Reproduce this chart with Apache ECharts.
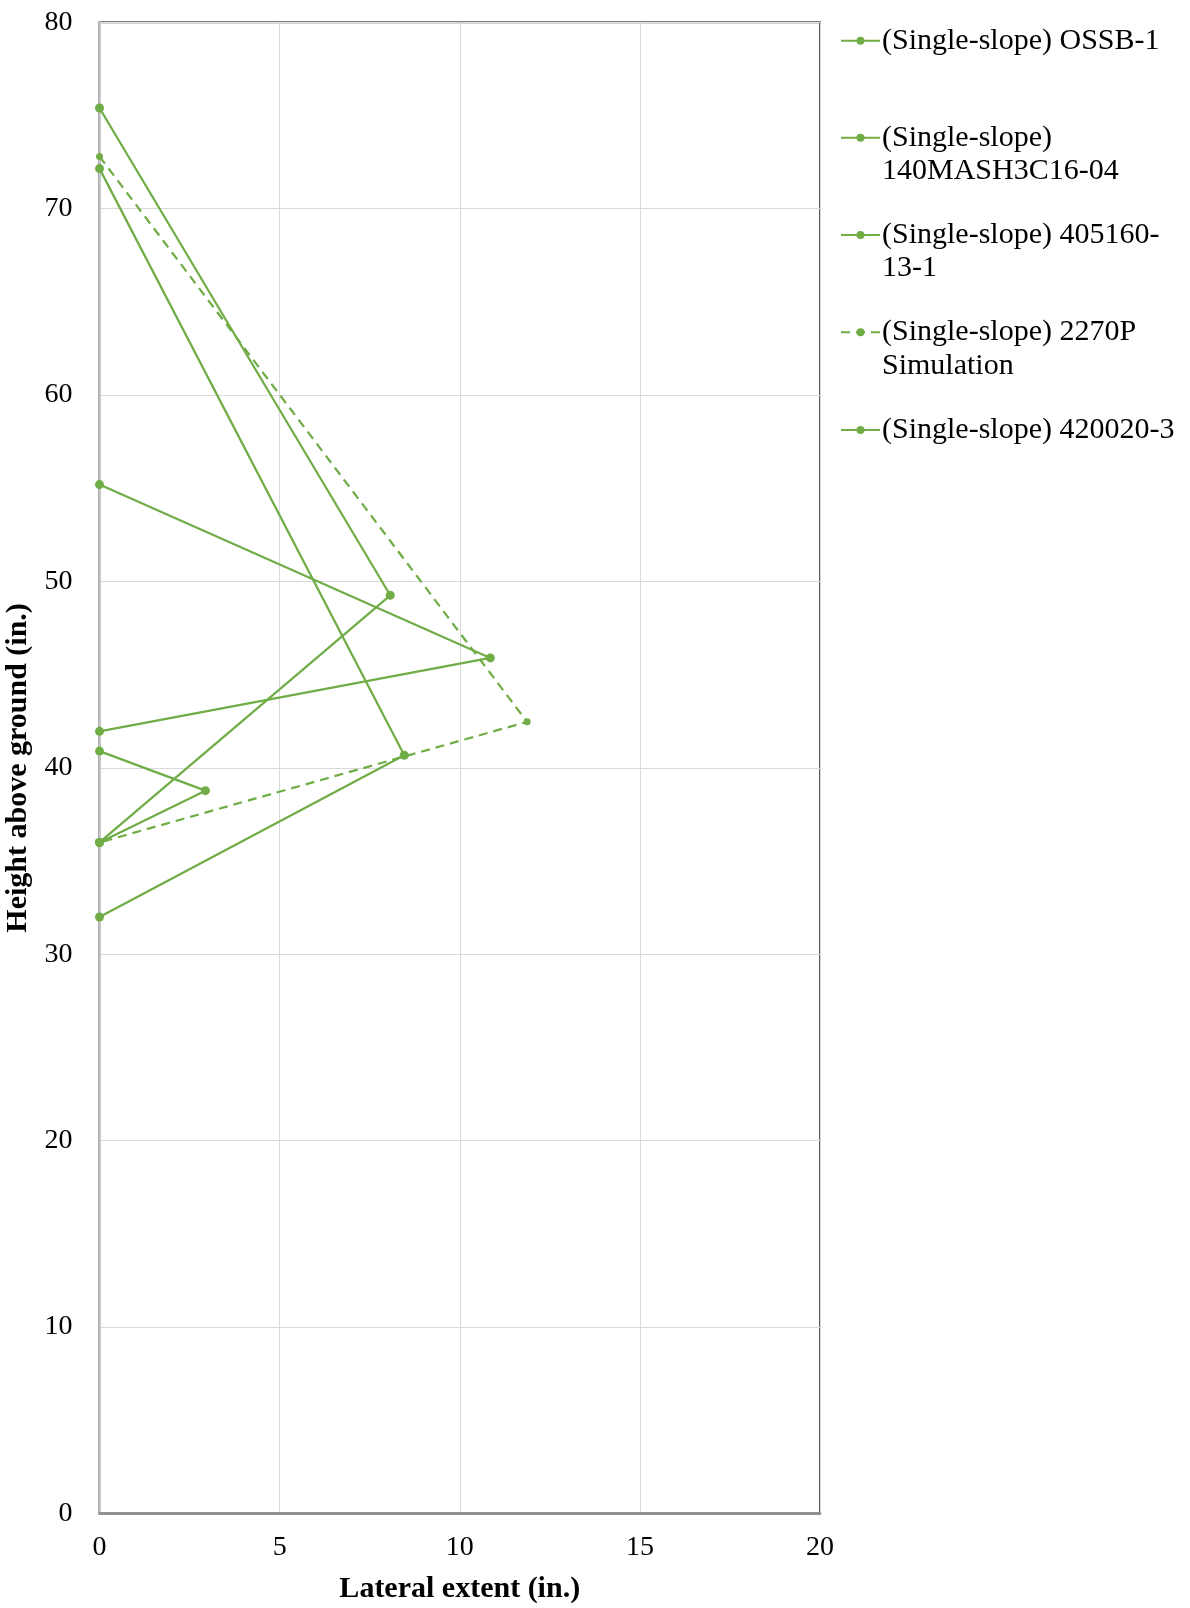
<!DOCTYPE html>
<html>
<head>
<meta charset="utf-8">
<script src="https://cdn.jsdelivr.net/npm/echarts@6/dist/echarts.min.js"></script>
<style>
html, body { margin: 0; padding: 0; background: #fff; }
#chart { width: 1190px; height: 1608px; }
</style>
</head>
<body>
<div id="chart"></div>
<script>
// ---- data ----
var seriesNames = [
  '(Single-slope) OSSB-1',
  '(Single-slope) 140MASH3C16-04',
  '(Single-slope) 405160-13-1',
  '(Single-slope) 2270P Simulation',
  '(Single-slope) 420020-3'
];
var legendLines = [
  ['(Single-slope) OSSB-1'],
  ['(Single-slope)', '140MASH3C16-04'],
  ['(Single-slope) 405160-', '13-1'],
  ['(Single-slope) 2270P', 'Simulation'],
  ['(Single-slope) 420020-3']
];
var ossb1 = [[0, 75.4], [8.07, 49.26], [0, 36.0]];
var mash140 = [[0, 72.15], [8.46, 40.68], [0, 32.0]];
var tti405160 = [[0, 55.2], [10.85, 45.9], [0, 41.96]];
var sim2270P = [[0, 72.8], [11.87, 42.47], [0, 36.0]];
var tti420020 = [[0, 40.9], [2.94, 38.78], [0, 36.0]];
var seriesData = [ossb1, mash140, tti405160, sim2270P, tti420020];
var dashedFlags = [false, false, false, true, false];
var xTicks = [0, 5, 10, 15, 20];
var yTicks = [0, 10, 20, 30, 40, 50, 60, 70, 80];

// ---- chart ----
var GREEN = '#70AD47';
var FONT = '"Liberation Serif", "Times New Roman", serif';
var chart = echarts.init(document.getElementById('chart'), null, { renderer: 'canvas' });

var series = seriesData.map(function (d, i) {
  return {
    name: seriesNames[i],
    type: 'line',
    data: d,
    symbol: 'circle',
    symbolSize: dashedFlags[i] ? 7 : 9,
    showSymbol: true,
    itemStyle: { color: GREEN },
    lineStyle: { color: GREEN, width: 2.25, type: dashedFlags[i] ? [9, 6] : 'solid' },
    emphasis: { disabled: true },
    animation: false,
    z: 3
  };
});

var firstLineCenters = [40.7, 137.7, 235, 332.3, 430];
var LH = 33.5;
var legends = seriesNames.map(function (n, i) {
  var lines = legendLines[i];
  var two = lines.length > 1;
  return {
    show: true,
    data: [n],
    orient: 'vertical',
    left: 840,
    top: two ? firstLineCenters[i] - LH * 1.5 : firstLineCenters[i] - LH / 2,
    padding: 0,
    itemWidth: 39,
    itemHeight: 10,
    itemGap: 0,
    selectedMode: false,
    formatter: function () { return two ? '\n' + lines.join('\n') : lines[0]; },
    textStyle: { fontFamily: FONT, fontSize: 30, color: '#000', lineHeight: LH, padding: [0, 0, 0, -3] }
  };
});

chart.setOption({
  backgroundColor: '#fff',
  animation: false,
  grid: {
    left: 99.5, right: 370, top: 22.3, bottom: 94.5,
    containLabel: false,
    outerBoundsMode: 'none',
    show: true, borderColor: '#595959', borderWidth: 2, backgroundColor: 'transparent'
  },
  legend: legends,
  xAxis: {
    type: 'value', min: 0, max: 20, interval: 5,
    name: 'Lateral extent (in.)', nameLocation: 'middle', nameGap: 61,
    nameTextStyle: { fontFamily: FONT, fontSize: 30, fontWeight: 'bold', color: '#000' },
    axisLine: { show: true, onZero: false, lineStyle: { color: '#8c8c8c', width: 2.5 } },
    axisTick: { show: false },
    axisLabel: {
      fontFamily: FONT, fontSize: 28, color: '#000', margin: 20,
      formatter: function (v) { return xTicks.indexOf(v) >= 0 ? String(v) : ''; }
    },
    splitLine: { show: true, lineStyle: { color: '#d9d9d9', width: 1 } }
  },
  yAxis: {
    type: 'value', min: 0, max: 80, interval: 10,
    name: 'Height above ground (in.)', nameLocation: 'middle', nameGap: 62,
    nameTextStyle: { fontFamily: FONT, fontSize: 30, fontWeight: 'bold', color: '#000' },
    axisLine: { show: true, onZero: false, lineStyle: { color: '#c6c6c6', width: 2 } },
    axisTick: { show: false },
    axisLabel: {
      fontFamily: FONT, fontSize: 28, color: '#000', margin: 27,
      formatter: function (v) { return yTicks.indexOf(v) >= 0 ? String(v) : ''; }
    },
    splitLine: { show: true, lineStyle: { color: '#d9d9d9', width: 1 } }
  },
  series: series
});
</script>
</body>
</html>
